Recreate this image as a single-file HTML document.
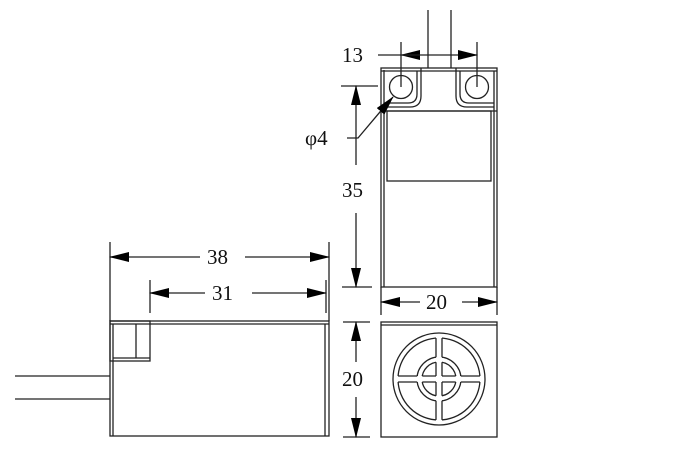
<!DOCTYPE html>
<html><head><style>body{margin:0;background:#fff}svg{display:block}text{font-family:"Liberation Serif",serif;font-size:21px;fill:#111}</style></head>
<body>
<svg width="700" height="463" viewBox="0 0 700 463" xmlns="http://www.w3.org/2000/svg">
<defs>
<marker id="a" markerWidth="20" markerHeight="10" refX="19" refY="5" orient="auto" markerUnits="userSpaceOnUse"><path d="M0,0 L20,5 L0,10 Z" fill="#000"/></marker>
</defs>
<g stroke="#222" stroke-width="1.3" fill="none">
<!-- side view -->
<rect x="110" y="321" width="219" height="115"/>
<line x1="113" y1="324" x2="113" y2="436"/>
<line x1="110" y1="324" x2="329" y2="324"/>
<line x1="325" y1="324" x2="325" y2="436"/>
<rect x="110" y="321" width="40" height="40"/>
<line x1="113" y1="358" x2="150" y2="358"/>
<line x1="136" y1="324" x2="136" y2="358"/>
<line x1="15" y1="376" x2="110" y2="376"/>
<line x1="15" y1="399" x2="110" y2="399"/>
<line x1="110" y1="242" x2="110" y2="321"/>
<line x1="329" y1="242" x2="329" y2="321"/>
<line x1="150" y1="280" x2="150" y2="313"/>
<line x1="326" y1="280" x2="326" y2="313"/>
<line x1="200" y1="257" x2="110" y2="257" marker-end="url(#a)"/>
<line x1="245" y1="257" x2="329" y2="257" marker-end="url(#a)"/>
<line x1="205" y1="293" x2="150" y2="293" marker-end="url(#a)"/>
<line x1="252" y1="293" x2="326" y2="293" marker-end="url(#a)"/>
<!-- top view -->
<rect x="381" y="68" width="116" height="219"/>
<line x1="384" y1="70" x2="384" y2="287"/>
<line x1="381" y1="71" x2="497" y2="71"/>
<line x1="494" y1="71" x2="494" y2="287"/>
<line x1="381" y1="111" x2="497" y2="111"/>
<rect x="387" y="111" width="104" height="70"/>
<circle cx="401" cy="87" r="11.5"/>
<circle cx="477" cy="87" r="11.5"/>
<path d="M417,71 V94 Q417,103 408,103 H384"/>
<path d="M421,68 V96 Q421,107 410,107 H384"/>
<path d="M460,71 V94 Q460,103 469,103 H494"/>
<path d="M456,68 V96 Q456,107 467,107 H494"/>
<line x1="428" y1="10" x2="428" y2="68"/>
<line x1="451" y1="10" x2="451" y2="68"/>
<line x1="401" y1="42" x2="401" y2="87"/>
<line x1="477" y1="42" x2="477" y2="87"/>
<line x1="378" y1="55" x2="401" y2="55"/>
<line x1="420" y1="55" x2="401" y2="55" marker-end="url(#a)"/>
<line x1="401" y1="55" x2="477" y2="55" marker-end="url(#a)"/>
<line x1="341" y1="86" x2="378" y2="86"/>
<line x1="342" y1="287" x2="372" y2="287"/>
<line x1="356" y1="165" x2="356" y2="86" marker-end="url(#a)"/>
<line x1="356" y1="213" x2="356" y2="287" marker-end="url(#a)"/>
<polyline points="347,138 358,138 385,106"/>
<line x1="380" y1="112" x2="393" y2="97" marker-end="url(#a)"/>
<!-- front view -->
<rect x="381" y="322" width="116" height="115"/>
<line x1="381" y1="325" x2="497" y2="325"/>
<line x1="381" y1="287" x2="381" y2="315"/>
<line x1="497" y1="287" x2="497" y2="315"/>
<line x1="420" y1="302" x2="381" y2="302" marker-end="url(#a)"/>
<line x1="462" y1="302" x2="497" y2="302" marker-end="url(#a)"/>
<line x1="343" y1="322" x2="370" y2="322"/>
<line x1="343" y1="437" x2="370" y2="437"/>
<line x1="356" y1="362" x2="356" y2="322" marker-end="url(#a)"/>
<line x1="356" y1="397" x2="356" y2="437" marker-end="url(#a)"/>
<circle cx="439" cy="379" r="46"/>
<circle cx="439" cy="379" r="41"/>
<circle cx="439" cy="379" r="22"/>
<circle cx="439" cy="379" r="17"/>
</g>
<g fill="#fff"><rect x="436" y="335" width="6" height="89"/><rect x="395" y="376" width="88" height="6"/></g>
<g stroke="#222" stroke-width="1.3">
<path d="M436,338.1V357.2M442,338.1V357.2M436,362.3V376M442,362.3V376M436,382V395.7M442,382V395.7M436,400.8V419.9M442,400.8V419.9"/>
<path d="M398.1,376H417.2M398.1,382H417.2M422.3,376H436M422.3,382H436M442,376H455.7M442,382H455.7M460.8,376H479.9M460.8,382H479.9"/>
</g>
<text x="207" y="264">38</text>
<text x="212" y="300">31</text>
<text x="342" y="62">13</text>
<text x="305" y="145">φ4</text>
<text x="342" y="197">35</text>
<text x="426" y="309">20</text>
<text x="342" y="386">20</text>
</svg>
</body></html>
